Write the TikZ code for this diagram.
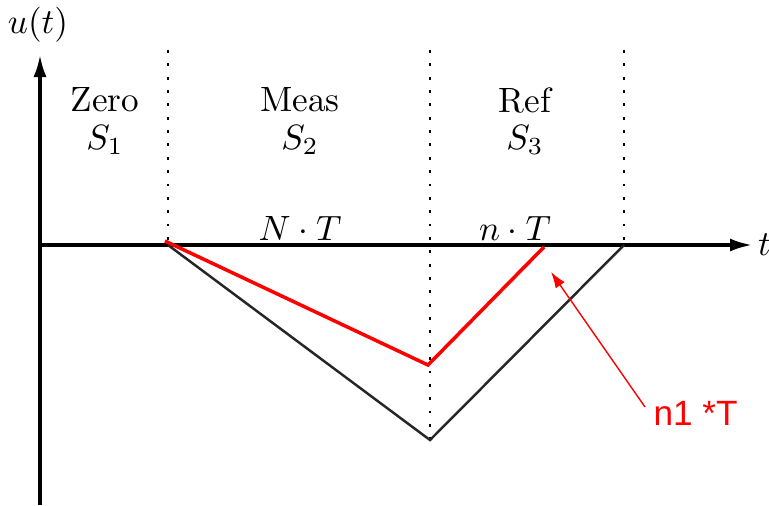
\documentclass[tikz,border=0pt]{standalone}
\usepackage{fontspec}
\newfontfamily\annotfont{Liberation Sans}
\usetikzlibrary{arrows.meta}
\begin{document}
\begin{tikzpicture}[
    axis/.style={line width=0.9pt, -{Latex[length=2.2mm,width=1.3mm]}},
    divider/.style={line width=0.8pt, dash pattern=on 0.8pt off 3pt},
    ramp/.style={line width=0.7pt, black!85},
    redramp/.style={line width=1pt, red},
    annot/.style={red, line width=0.4pt, -{Latex[length=1.6mm,width=1.1mm]}}]
  \useasboundingbox (-0.40,-2.60) rectangle (7.29,2.45);
  % axes
  \coordinate (o) at (0,0);
  \coordinate (ytop) at (0,1.90);
  \coordinate (ybot) at (0,-2.60);
  \coordinate (xend) at (7.12,0);
  \draw[axis] (ybot) -- (ytop);
  \draw[axis] (o) -- (xend);
  \node (ulab) at (-0.02,2.20) {$u(t)$};
  \node[right, inner sep=1pt] (tlab) at (7.14,0) {$t$};
  % phase borders
  \coordinate (d1t) at (1.28,1.95);
  \coordinate (d1b) at (1.28,0);
  \coordinate (d2t) at (3.90,1.95);
  \coordinate (d2b) at (3.90,-1.95);
  \coordinate (d3t) at (5.84,1.95);
  \coordinate (d3b) at (5.84,0);
  \draw[divider] (d1t) -- (d1b);
  \draw[divider] (d2t) -- (d2b);
  \draw[divider] (d3t) -- (d3b);
  % phase names
  \node (zero) at (0.65,1.45) {Zero};
  \node (s1) at (0.65,1.05) {$S_1$};
  \node (meas) at (2.60,1.45) {Meas};
  \node (s2) at (2.60,1.05) {$S_2$};
  \node (ref) at (4.85,1.45) {Ref};
  \node (s3) at (4.85,1.05) {$S_3$};
  \node (nt1) at (2.60,0.17) {$N\cdot T$};
  \node (nt2) at (4.75,0.17) {$n\cdot T$};
  % integrator output
  \draw[ramp] (d1b) -- (d2b) -- (d3b);
  \coordinate (r1) at (1.25,0.04);
  \coordinate (r2) at (3.88,-1.20);
  \coordinate (r3) at (5.04,-0.02);
  \draw[redramp] (r1) -- (r2) -- (r3);
  % annotation
  \node[red, font=\annotfont\fontsize{10}{12}\selectfont] (n1T) at (6.555,-1.68) {n1 *T};
  \coordinate (tail) at (6.05,-1.62);
  \coordinate (tip) at (5.11,-0.27);
  \draw[annot] (tail) -- (tip);
\end{tikzpicture}
\end{document}
